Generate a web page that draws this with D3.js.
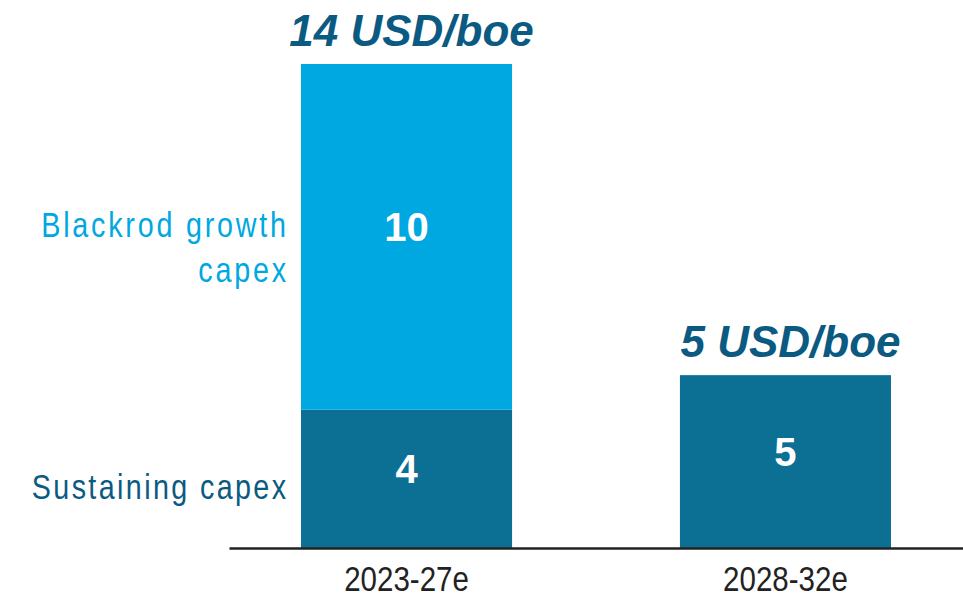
<!doctype html>
<html>
<head>
    <meta charset="utf-8"/>
    <style>
        html, body {
          margin: 0;
          padding: 0;
          background: #fff;
        }
        svg {
          display: block;
        }
        .axis path {
          stroke: #222;
          stroke-width: 2.6px;
        }
        .axis text {
          font-family: "Liberation Sans", Arial, sans-serif;
          font-size: 36px;
          fill: #222;
        }
    </style>
    <script src="https://d3js.org/d3.v7.min.js"></script>
</head>
<body>

<svg width="963" height="595"></svg>

<script>
    // chart values
    var periods = ["2023-27e", "2028-32e"];
    var sustaining = [4, 5];
    var growth = [10, 0];
    var totalLabels = ["14 USD/boe", "5 USD/boe"];
    var seriesNames = ["Sustaining capex", "Blackrod growth capex"];

    var darkBlue = "#0c7094";
    var lightBlue = "#00a8e1";
    var labelDark = "#0b5a82";
    var narrow = 0.82; // condensed look, no narrow font installed

    var svg = d3.select("svg");

    var x = d3.scaleBand()
        .domain(periods)
        .range([229, 963])
        .paddingInner(0.443)
        .paddingOuter(0.19);

    var y = d3.scaleLinear()
        .domain([0, 14])
        .range([548, 64]);

    var rows = periods.map(function(p, i) {
        return { period: p, sustaining: sustaining[i], growth: growth[i], label: totalLabels[i] };
    });

    var stack = d3.stack().keys(["sustaining", "growth"]);
    var layers = stack(rows);
    var colors = [darkBlue, lightBlue];

    var g = svg.append("g");

    layers.forEach(function(layer, li) {
        var grp = g.append("g");
        var segs = layer.filter(function(d) { return d[1] - d[0] > 0; });

        grp.selectAll("rect").data(segs).enter().append("rect")
            .attr("x", function(d) { return x(d.data.period); })
            .attr("width", x.bandwidth())
            .attr("y", function(d) { return y(d[1]); })
            .attr("height", function(d) { return y(d[0]) - y(d[1]); })
            .attr("fill", colors[li]);

        grp.selectAll("text").data(segs).enter().append("text")
            .attr("x", function(d) { return x(d.data.period) + x.bandwidth() / 2; })
            .attr("y", function(d) { return (y(d[0]) + y(d[1])) / 2 + 4; })
            .attr("text-anchor", "middle")
            .attr("font-family", "'Liberation Sans', Arial, sans-serif")
            .attr("font-weight", "bold")
            .attr("font-size", "40px")
            .attr("fill", "#fff")
            .text(function(d) { return d[1] - d[0]; });
    });

    // totals above bars
    g.selectAll(".total").data(rows).enter().append("text")
        .attr("class", "total")
        .attr("x", function(d) { return x(d.period) + x.bandwidth() / 2 + 5; })
        .attr("y", function(d) { return y(d.sustaining + d.growth) - 18; })
        .attr("text-anchor", "middle")
        .attr("font-family", "'Liberation Sans', Arial, sans-serif")
        .attr("font-weight", "bold")
        .attr("font-style", "italic")
        .attr("font-size", "44px")
        .attr("fill", labelDark)
        .text(function(d) { return d.label; });

    // series labels on the left of the first bar (condensed via scaleX)
    var lx = x(periods[0]) - 15;
    var growthMid = (y(sustaining[0]) + y(sustaining[0] + growth[0])) / 2;

    function condLabel(px, py, txt, color, spacing) {
        g.append("text")
            .attr("transform", "translate(" + (px + spacing * narrow) + "," + py + ") scale(" + narrow + ",1)")
            .attr("text-anchor", "end")
            .attr("font-family", "'Liberation Sans', Arial, sans-serif")
            .attr("font-size", "35px")
            .attr("letter-spacing", spacing + "px")
            .attr("fill", color)
            .text(txt);
    }

    condLabel(lx, y(sustaining[0] / 2) + 20, seriesNames[0], labelDark, 2.9);
    condLabel(lx, growthMid, "Blackrod growth", lightBlue, 3.4);
    condLabel(lx, growthMid + 45, "capex", lightBlue, 3.4);

    // x axis
    var axis = g.append("g")
        .attr("class", "axis")
        .attr("transform", "translate(0," + y(0) + ")")
        .call(d3.axisBottom(x).tickSize(0).tickSizeOuter(0));

    axis.selectAll(".tick text")
        .attr("y", 0)
        .attr("dy", 0)
        .attr("transform", "translate(0,43) scale(" + narrow + ",1)");
</script>

</body>
</html>
